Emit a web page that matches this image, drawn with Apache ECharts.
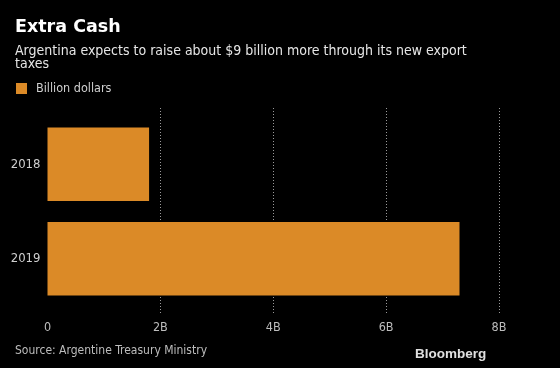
<!DOCTYPE html>
<html>
<head>
<meta charset="utf-8">
<style>
html,body{margin:0;padding:0;background:#000;}
#chart{width:560px;height:368px;}
</style>
<script src="https://cdn.jsdelivr.net/npm/echarts@6/dist/echarts.min.js"></script>
</head>
<body>
<div id="chart"></div>
<script>
const categories = ['2018', '2019'];
const values = [1.8, 7.3];
const seriesName = 'Billion dollars';
const tickMin = 0, tickMax = 8, tickStep = 2;
const titleText = 'Extra Cash';
const subtitleText = 'Argentina expects to raise about $9 billion more through its new export\ntaxes';
const sourceText = 'Source: Argentine Treasury Ministry';

const FONT = '"Liberation Sans Narrow", "DejaVu Sans Condensed", "Noto Sans", sans-serif';
const chart = echarts.init(document.getElementById('chart'));
chart.setOption({
  backgroundColor: '#000',
  animation: false,
  title: [
    {
      text: titleText,
      left: 15, top: 16,
      padding: 0,
      textStyle: {color: '#fff', fontSize: 17.5, fontWeight: 'bold', fontFamily: '"DejaVu Sans", sans-serif', lineHeight: 22}
    },
    {
      text: subtitleText,
      left: 15, top: 45,
      padding: 0,
      textStyle: {color: '#e6e6e6', fontSize: 14, fontWeight: 'normal', fontFamily: FONT, lineHeight: 13}
    },
    {
      text: sourceText,
      left: 15, top: 343,
      padding: 0,
      textStyle: {color: '#bdbdbd', fontSize: 12, fontWeight: 'normal', fontFamily: FONT, lineHeight: 16}
    },
    {
      text: 'Bloomberg',
      left: 415, top: 346,
      padding: 0,
      textStyle: {color: '#e0e0e0', fontSize: 13.5, fontWeight: 'bold', fontFamily: '"Liberation Sans", Arial, sans-serif', lineHeight: 16}
    }
  ],
  legend: {
    left: 16, top: 82,
    padding: 0,
    itemWidth: 11, itemHeight: 11, itemGap: 10,
    icon: 'rect',
    textStyle: {color: '#cfcfcf', fontSize: 12.5, fontFamily: FONT, padding: [0, 0, 0, 4]},
    data: [seriesName]
  },
  grid: [
    {left: 47.5, right: 61, top: 117, bottom: 62, containLabel: false},
    {left: 47.5, right: 61, top: 108, bottom: 55, containLabel: false}
  ],
  xAxis: [
    {
      gridIndex: 0, type: 'value', min: tickMin, max: tickMax, interval: tickStep,
      axisLine: {show: false}, axisTick: {show: false}, axisLabel: {show: false}, splitLine: {show: false}
    },
    {
      gridIndex: 1, type: 'value', min: tickMin, max: tickMax, interval: tickStep,
      axisLine: {show: false}, axisTick: {show: false},
      axisLabel: {
        color: '#bdbdbd', fontSize: 12.5, fontFamily: FONT, margin: 8,
        formatter: v => v === 0 ? '0' : v + 'B'
      },
      splitLine: {show: true, lineStyle: {color: ['rgba(0,0,0,0)', '#9a9a9a', '#9a9a9a', '#9a9a9a', '#9a9a9a'], type: [1, 2], width: 1}}
    }
  ],
  yAxis: [
    {
      gridIndex: 0, type: 'category', data: categories, inverse: true,
      axisLine: {show: false}, axisTick: {show: false},
      axisLabel: {color: '#cfcfcf', fontSize: 13, fontFamily: FONT, margin: 7}
    },
    {
      gridIndex: 1, type: 'value', show: false
    }
  ],
  series: [
    {
      name: seriesName, type: 'bar', xAxisIndex: 0, yAxisIndex: 0,
      data: values, barCategoryGap: '22%', z: 5,
      itemStyle: {color: '#db8a27'}
    }
  ]
});
</script>
</body>
</html>
